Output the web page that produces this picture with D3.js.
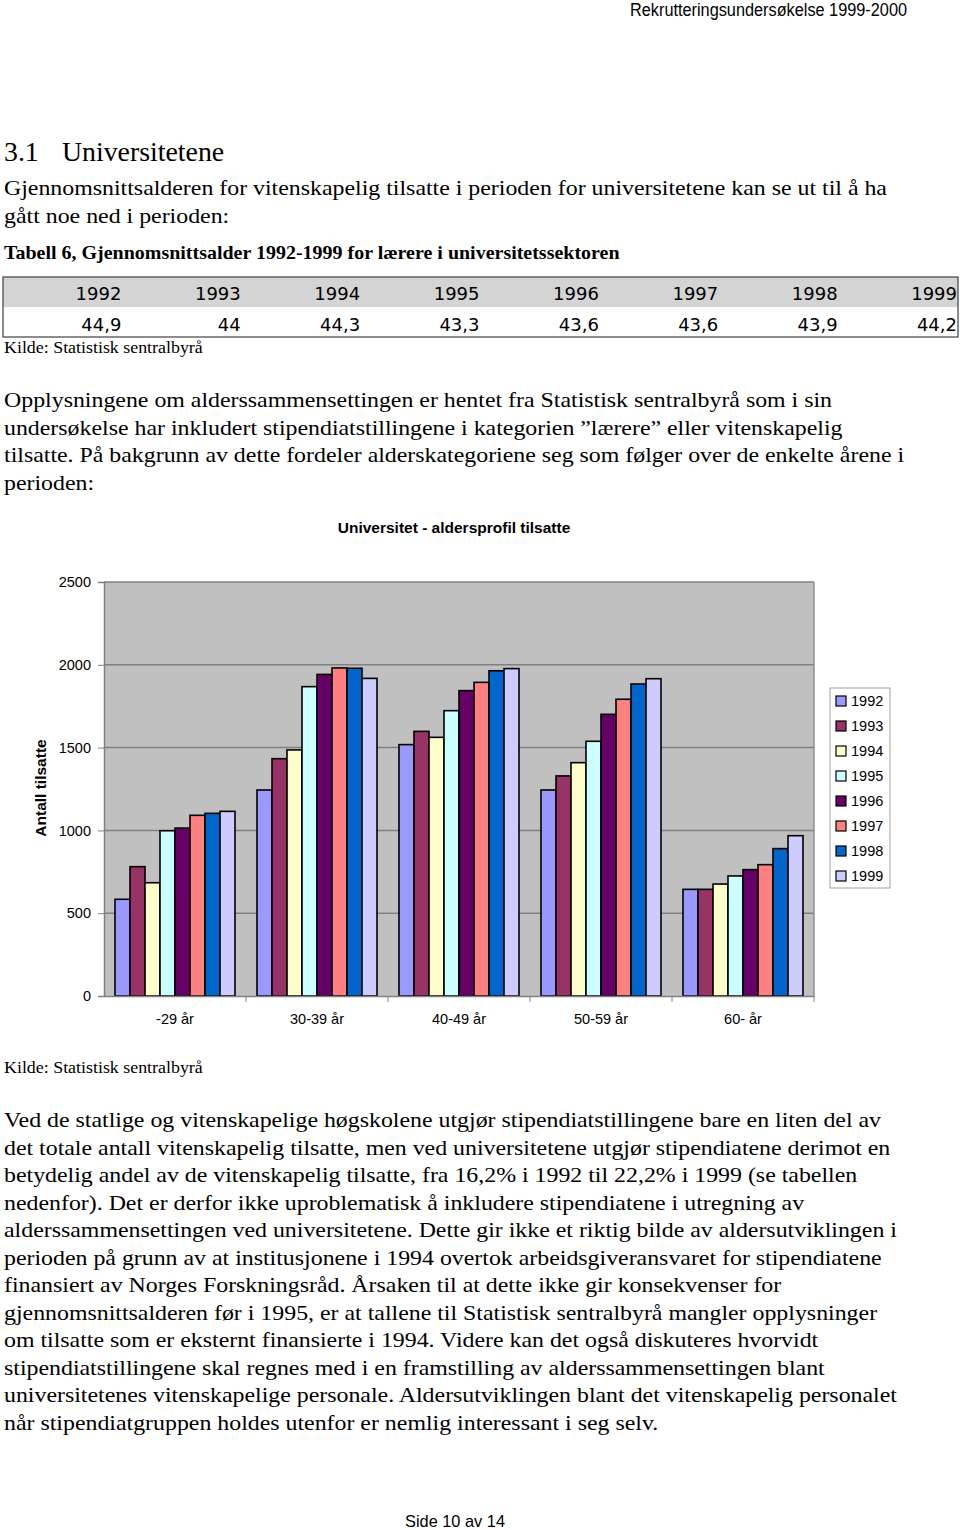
<!DOCTYPE html>
<html>
<head>
<meta charset="utf-8">
<title>Universitet - aldersprofil tilsatte</title>
<style>
  body { margin: 0; background: #fff; }
  svg text { fill: #000; }
  .serif { font-family: "Liberation Serif", "Times New Roman", serif; }
  .sans { font-family: "Liberation Sans", Arial, sans-serif; }
</style>
</head>
<body>
<svg width="960" height="1530"></svg>
<script src="https://d3js.org/d3.v7.min.js"></script>
<script>
// table data
var tableYears = ["1992", "1993", "1994", "1995", "1996", "1997", "1998", "1999"];
var tableAges = ["44,9", "44", "44,3", "43,3", "43,6", "43,6", "43,9", "44,2"];

// chart data
var ageGroups = ["-29 år", "30-39 år", "40-49 år", "50-59 år", "60- år"];
var years = ["1992", "1993", "1994", "1995", "1996", "1997", "1998", "1999"];
var v1992 = [584, 1244, 1518, 1244, 644];
var v1993 = [781, 1433, 1598, 1329, 644];
var v1994 = [684, 1486, 1562, 1409, 676];
var v1995 = [998, 1868, 1723, 1538, 725];
var v1996 = [1014, 1942, 1844, 1701, 763];
var v1997 = [1091, 1981, 1894, 1792, 793];
var v1998 = [1103, 1979, 1964, 1884, 890];
var v1999 = [1115, 1918, 1977, 1916, 968];
var yTicks = [0, 500, 1000, 1500, 2000, 2500];
var colors = ["#9999ff", "#993366", "#ffffcc", "#ccffff", "#660066", "#ff8080", "#0066cc", "#ccccff"];

var series = [v1992, v1993, v1994, v1995, v1996, v1997, v1998, v1999];

var para1 = [
  "Gjennomsnittsalderen for vitenskapelig tilsatte i perioden for universitetene kan se ut til å ha",
  "gått noe ned i perioden:"
];
var para2 = [
  "Opplysningene om alderssammensettingen er hentet fra Statistisk sentralbyrå som i sin",
  "undersøkelse har inkludert stipendiatstillingene i kategorien ”lærere” eller vitenskapelig",
  "tilsatte. På bakgrunn av dette fordeler alderskategoriene seg som følger over de enkelte årene i",
  "perioden:"
];
var para3 = [
  "Ved de statlige og vitenskapelige høgskolene utgjør stipendiatstillingene bare en liten del av",
  "det totale antall vitenskapelig tilsatte, men ved universitetene utgjør stipendiatene derimot en",
  "betydelig andel av de vitenskapelig tilsatte, fra 16,2% i 1992 til 22,2% i 1999 (se tabellen",
  "nedenfor). Det er derfor ikke uproblematisk å inkludere stipendiatene i utregning av",
  "alderssammensettingen ved universitetene. Dette gir ikke et riktig bilde av aldersutviklingen i",
  "perioden på grunn av at institusjonene i 1994 overtok arbeidsgiveransvaret for stipendiatene",
  "finansiert av Norges Forskningsråd. Årsaken til at dette ikke gir konsekvenser for",
  "gjennomsnittsalderen før i 1995, er at tallene til Statistisk sentralbyrå mangler opplysninger",
  "om tilsatte som er eksternt finansierte i 1994. Videre kan det også diskuteres hvorvidt",
  "stipendiatstillingene skal regnes med i en framstilling av alderssammensettingen blant",
  "universitetenes vitenskapelige personale. Aldersutviklingen blant det vitenskapelig personalet",
  "når stipendiatgruppen holdes utenfor er nemlig interessant i seg selv."
];

var svg = d3.select("svg");

// the source document is a bit wider than Times at its height, so serif text gets a small x stretch
function serifText(x, y, size, sx, str, bold) {
  var t = svg.append("text").attr("class", "serif")
    .attr("transform", "translate(" + x + "," + y + ")scale(" + sx + ",1)")
    .attr("font-size", size)
    .text(str);
  if (bold) t.attr("font-weight", "bold");
  return t;
}

// page header
svg.append("text")
  .attr("class", "sans")
  .attr("x", 907).attr("y", 16)
  .attr("text-anchor", "end")
  .attr("font-size", 18)
  .attr("textLength", 277).attr("lengthAdjust", "spacingAndGlyphs")
  .text("Rekrutteringsundersøkelse 1999-2000");

// heading
serifText(4, 161, 26.5, 1.05, "3.1");
serifText(62, 161, 26.5, 1.05, "Universitetene");

function paragraph(lines, y0) {
  lines.forEach(function (d, i) {
    serifText(4, y0 + i * 27.5, 22, 1.085, d);
  });
}

paragraph(para1, 195);

serifText(4, 259, 18.5, 1.08, "Tabell 6, Gjennomsnittsalder 1992-1999 for lærere i universitetssektoren", true);

// table
var tx = d3.scaleBand().domain(tableYears).range([3, 958]);
var table = svg.append("g");
table.append("rect")
  .attr("x", 3).attr("y", 277).attr("width", 955).attr("height", 30)
  .attr("fill", "#d4d4d4");
table.append("rect")
  .attr("x", 3).attr("y", 277).attr("width", 955).attr("height", 60)
  .attr("fill", "none").attr("stroke", "#404040").attr("stroke-width", 1.2);
table.selectAll("text.yr")
  .data(tableYears)
  .enter().append("text")
  .attr("class", "yr")
  .attr("x", function (d) { return tx(d) + tx.bandwidth() - 1; })
  .attr("y", 300)
  .attr("text-anchor", "end")
  .attr("font-family", "'DejaVu Sans', Verdana, sans-serif")
  .attr("font-size", 18)
  .text(function (d) { return d; });
table.selectAll("text.age")
  .data(tableAges)
  .enter().append("text")
  .attr("class", "age")
  .attr("x", function (d, i) { return tx(tableYears[i]) + tx.bandwidth() - 1; })
  .attr("y", 331)
  .attr("text-anchor", "end")
  .attr("font-family", "'DejaVu Sans', Verdana, sans-serif")
  .attr("font-size", 18)
  .text(function (d) { return d; });

serifText(4, 353, 16.5, 1.085, "Kilde: Statistisk sentralbyrå");

paragraph(para2, 407);

// chart
var plot = { left: 104, right: 814, top: 582, bottom: 996 };

svg.append("text").attr("class", "sans")
  .attr("x", 454).attr("y", 533)
  .attr("text-anchor", "middle")
  .attr("font-size", 15.5).attr("font-weight", "bold")
  .text("Universitet - aldersprofil tilsatte");

var x0 = d3.scaleBand().domain(ageGroups).range([plot.left, plot.right]);
var x1 = d3.scaleBand().domain(years).range([11, x0.bandwidth() - 11]);
var y = d3.scaleLinear().domain([0, 2500]).range([plot.bottom, plot.top]);

var chart = svg.append("g");

chart.append("rect")
  .attr("x", plot.left).attr("y", plot.top)
  .attr("width", plot.right - plot.left).attr("height", plot.bottom - plot.top)
  .attr("fill", "#c0c0c0");

chart.append("g")
  .selectAll("line")
  .data(yTicks.slice(1))
  .enter().append("line")
  .attr("x1", plot.left).attr("x2", plot.right)
  .attr("y1", function (d) { return y(d); })
  .attr("y2", function (d) { return y(d); })
  .attr("stroke", "#808080").attr("stroke-width", 1.5);

chart.append("line")
  .attr("x1", plot.right).attr("x2", plot.right)
  .attr("y1", plot.top).attr("y2", plot.bottom)
  .attr("stroke", "#909090").attr("stroke-width", 1.5);

// bars
var groups = chart.append("g")
  .selectAll("g")
  .data(ageGroups)
  .enter().append("g")
  .attr("transform", function (d) { return "translate(" + x0(d) + ",0)"; });

groups.selectAll("rect")
  .data(function (d, gi) {
    return years.map(function (yr, si) { return { year: yr, value: series[si][gi], c: colors[si] }; });
  })
  .enter().append("rect")
  .attr("x", function (d) { return x1(d.year); })
  .attr("y", function (d) { return y(d.value); })
  .attr("width", x1.bandwidth())
  .attr("height", function (d) { return y(0) - y(d.value); })
  .attr("fill", function (d) { return d.c; })
  .attr("stroke", "#000").attr("stroke-width", 1.6);

// y axis
var yAxis = d3.axisLeft(y).tickValues(yTicks).tickFormat(d3.format("d")).tickSize(6).tickPadding(7);
var ya = chart.append("g")
  .attr("transform", "translate(" + plot.left + ",0)")
  .call(yAxis);
ya.select(".domain").attr("stroke", "#808080").attr("stroke-width", 1.5);
ya.selectAll(".tick line").attr("stroke", "#808080");
ya.selectAll(".tick text")
  .attr("font-family", "'Liberation Sans', Arial, sans-serif")
  .attr("font-size", 14.5);

// x axis
var xAxis = d3.axisBottom(x0).tickSize(0).tickPadding(18);
var xa = chart.append("g")
  .attr("transform", "translate(0," + plot.bottom + ")")
  .call(xAxis);
xa.select(".domain").attr("stroke", "#808080").attr("stroke-width", 1.5);
xa.selectAll(".tick text")
  .attr("font-family", "'Liberation Sans', Arial, sans-serif")
  .attr("font-size", 14.5);
xa.append("g")
  .selectAll("line")
  .data(ageGroups.slice(1).concat(["end"]))
  .enter().append("line")
  .attr("x1", function (d) { return d === "end" ? plot.right : x0(d); })
  .attr("x2", function (d) { return d === "end" ? plot.right : x0(d); })
  .attr("y1", 0).attr("y2", 6)
  .attr("stroke", "#808080");

chart.append("text").attr("class", "sans")
  .attr("transform", "translate(46,788)rotate(-90)")
  .attr("text-anchor", "middle")
  .attr("font-size", 15.5).attr("font-weight", "bold")
  .text("Antall tilsatte");

// legend
var legend = chart.append("g").attr("transform", "translate(830,688)");
legend.append("rect")
  .attr("width", 60).attr("height", 200)
  .attr("fill", "#fff").attr("stroke", "#a0a0a0");
var li = legend.selectAll("g")
  .data(years)
  .enter().append("g")
  .attr("transform", function (d, i) { return "translate(0," + (13 + i * 25) + ")"; });
li.append("rect")
  .attr("x", 6).attr("y", -5).attr("width", 10).attr("height", 10)
  .attr("fill", function (d, i) { return colors[i]; })
  .attr("stroke", "#000").attr("stroke-width", 1.2);
li.append("text").attr("class", "sans")
  .attr("x", 21).attr("y", 5)
  .attr("font-size", 14.5)
  .text(function (d) { return d; });

serifText(4, 1073, 16.5, 1.085, "Kilde: Statistisk sentralbyrå");

paragraph(para3, 1127);

// footer
svg.append("text").attr("class", "sans")
  .attr("x", 455).attr("y", 1527)
  .attr("text-anchor", "middle")
  .attr("font-size", 17)
  .attr("textLength", 100).attr("lengthAdjust", "spacingAndGlyphs")
  .text("Side 10 av 14");
</script>
</body>
</html>
